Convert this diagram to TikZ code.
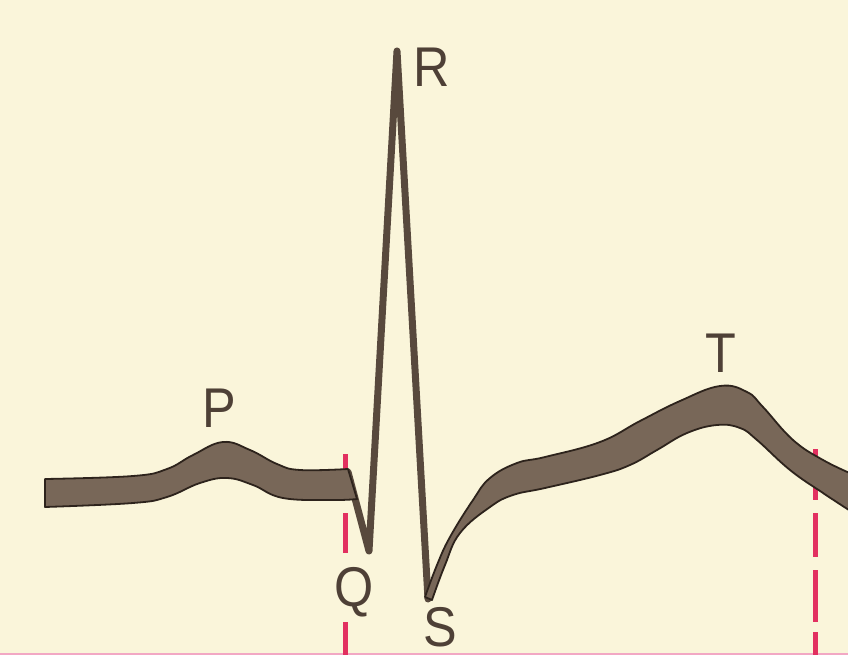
\documentclass[tikz,border=0pt]{standalone}
\usepackage{fontspec}
\usetikzlibrary{backgrounds}
\newfontfamily\wavefont{Liberation Sans}
\definecolor{paper}{RGB}{250,245,218}
\definecolor{bandfill}{RGB}{120,103,88}
\definecolor{bandedge}{RGB}{45,35,28}
\definecolor{spike}{RGB}{88,73,61}
\definecolor{marker}{RGB}{226,48,96}
\definecolor{edgeline}{RGB}{242,168,196}
\definecolor{inkletter}{RGB}{78,64,54}
\newcommand{\wavelbl}[1]{\scalebox{0.9}[1]{#1}}

\begin{document}
\begin{tikzpicture}[
  x=1pt,y=-1pt,
  band/.style={fill=bandfill,draw=bandedge,line width=1.8pt,line join=round},
  qrs/.style={draw=spike,line width=7pt,line join=round,line cap=round},
  redline/.style={draw=marker,line width=5pt},
  wlabel/.style={font={\wavefont\fontsize{56}{56}\selectfont},text=inkletter,
                 inner sep=0pt,anchor=base},
]
\useasboundingbox (0,0) rectangle (848,655);
\fill[paper] (0,0) rectangle (848,655);
\draw[edgeline,line width=2pt] (0,653.5) -- (848,653.5);

% ---------- interval markers ----------
\foreach \ya/\yb in {454/500, 513/553, 622/655}
  \draw[redline] (345,\ya) -- (345,\yb);
\foreach \ya/\yb in {449/500, 513/557, 570/622, 632/655}
  \draw[redline] (815,\ya) -- (815,\yb);

% ---------- QRS complex ----------
\draw[qrs] (348,472) -- (369,551) -- (397,51) -- (428,599);

% ---------- baseline with P wave ----------
\filldraw[band] plot[smooth,tension=0.7] coordinates {(45,479) (133,476) (167,469) (193,455)
    (223,442) (250,450) (277,464) (300,470) (348,469)}
  -- (357,499)
  -- plot[smooth,tension=0.7] coordinates {(357,499) (333,500) (283,498) (253,485) (227,478)
    (200,483) (167,497) (133,503) (45,507)}
  -- cycle;

% ---------- ST segment and T wave ----------
\filldraw[band] plot[smooth,tension=0.7] coordinates {(425,597) (437,565) (450,537) (473,500)
    (490,478) (517,463) (545,457) (600,442) (640,421) (680,401) (720,386) (747,392)
    (763,407) (793,440) (823,460) (852,474)}
  -- (852,512)
  -- plot[smooth,tension=0.7] coordinates {(852,512) (823,493) (790,470) (757,440) (740,428)
    (717,425) (687,433) (657,450) (630,465) (600,475) (545,488) (513,495) (490,507)
    (460,533) (445,565) (432,600)}
  -- cycle;

% ---------- wave labels ----------
\node[wlabel] (lblP) at (219,427) {\wavelbl{P}};
\node[wlabel] (lblQ) at (354,606) {\wavelbl{Q}};
\node[wlabel] (lblR) at (432,87) {\wavelbl{R}};
\node[wlabel] (lblS) at (440,646) {\wavelbl{S}};
\node[wlabel] (lblT) at (721,372) {\wavelbl{T}};
\end{tikzpicture}
\end{document}
